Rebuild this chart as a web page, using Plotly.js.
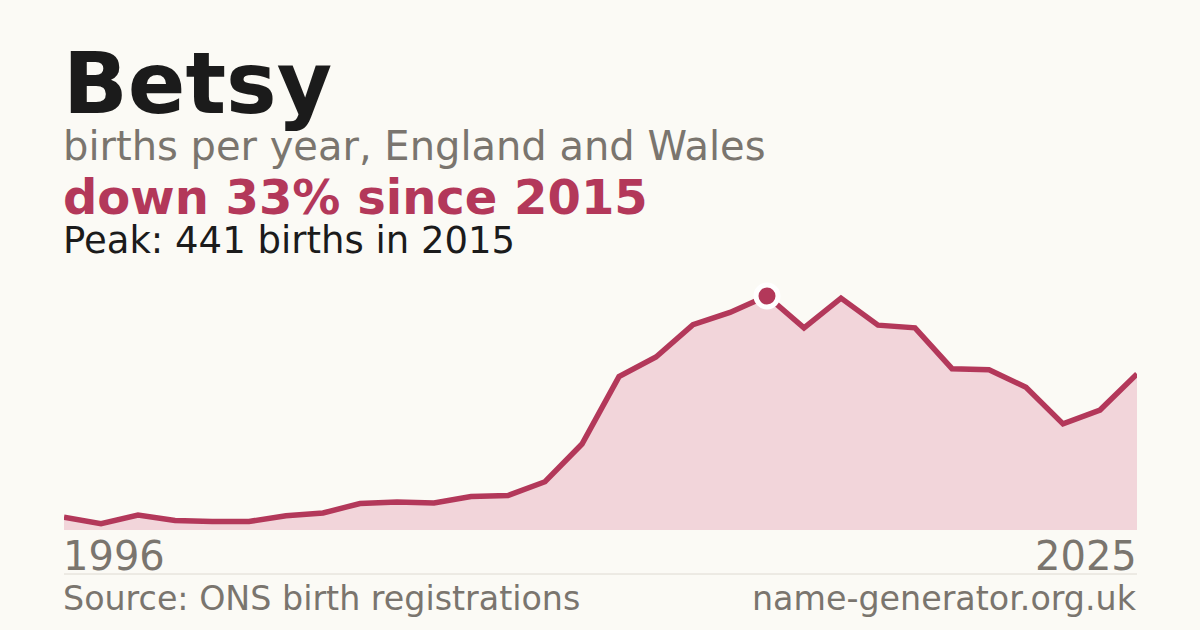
<!DOCTYPE html>
<html>
<head>
<meta charset="utf-8">
<script src="https://cdn.plot.ly/plotly-3.0.1.min.js"></script>
<style>
  html, body { margin: 0; padding: 0; background: #fbfaf5; }
  #chart { width: 1200px; height: 630px; }
</style>
</head>
<body>
<div id="chart"></div>
<script>
/* ============================================================
   DATA
   ============================================================ */
const years = [
  1996, 1997, 1998, 1999, 2000, 2001, 2002, 2003, 2004, 2005,
  2006, 2007, 2008, 2009, 2010, 2011, 2012, 2013, 2014, 2015,
  2016, 2017, 2018, 2019, 2020, 2021, 2022, 2023, 2024, 2025,
];
const births = [
  24, 12, 28, 18, 16, 16, 27, 32, 50, 53,
  51, 63, 65, 91, 162, 289, 326, 387, 410, 441,
  381, 437, 386, 381, 304, 302, 269, 200, 226, 294,
];
const peakYear = 2015;
const peakValue = 441;
const tickLabels = ["1996", "2025"];

/* ============================================================
   COLOURS
   ============================================================ */
const BG = "#fbfaf5";
const RED = "#b3385a";
const FILL = "#f2d5da";
const INK = "#1b1b1b";
const GREY = "#7a756e";
const FONT = "DejaVu Sans, sans-serif";

// plot area: y=280..530 px, zero sits on the bottom edge
const plotTop = 280;
const plotBottom = 530;
const plotH = plotBottom - plotTop;
const plotW = 1200 - 64 - 63;
const yMax = (peakValue * plotH) / 234;

// pixel row -> paper y
function py(px) {
  return (plotBottom - px) / plotH;
}
const LEFT = -2 / plotW;
const RIGHT = 1 + 1 / plotW;

function label(text, x, yPx, size, color, bold, anchor) {
  return {
    xref: "paper",
    yref: "paper",
    x: x,
    y: py(yPx),
    xanchor: anchor || "left",
    yanchor: "middle",
    showarrow: false,
    borderpad: 0,
    text: bold ? "<b>" + text + "</b>" : text,
    font: { family: FONT, size: size, color: color },
  };
}

/* ============================================================
   TRACES
   ============================================================ */
const area = {
  x: years,
  y: births,
  type: "scatter",
  mode: "lines",
  fill: "tozeroy",
  fillcolor: FILL,
  line: { color: RED, width: 5.5, shape: "linear" },
  hoverinfo: "skip",
};

// peak dot with a white ring
const peak = {
  x: [peakYear],
  y: [peakValue],
  type: "scatter",
  mode: "markers",
  marker: { size: 22, color: RED, line: { color: "#ffffff", width: 5 } },
  cliponaxis: false,
  hoverinfo: "skip",
};

/* ============================================================
   LAYOUT
   ============================================================ */
const layout = {
  width: 1200,
  height: 630,
  paper_bgcolor: BG,
  plot_bgcolor: BG,
  showlegend: false,
  margin: { l: 64, r: 63, t: plotTop, b: 630 - plotBottom, pad: 0 },
  xaxis: {
    range: [years[0], years[years.length - 1]],
    showgrid: false,
    zeroline: false,
    showline: false,
    showticklabels: false,
    fixedrange: true,
  },
  yaxis: {
    range: [0, yMax],
    showgrid: false,
    zeroline: false,
    showline: false,
    showticklabels: false,
    fixedrange: true,
  },
  shapes: [
    {
      type: "line",
      xref: "paper",
      yref: "paper",
      x0: 0,
      x1: 1,
      y0: py(574),
      y1: py(574),
      line: { color: "#dedad2", width: 1 },
    },
  ],
  annotations: [
    label("Betsy", LEFT, 83, 85, INK, true),
    label("births per year, England and Wales", LEFT, 145.5, 40, GREY, false),
    label("down 33% since 2015", LEFT, 197.4, 48, RED, true),
    label("Peak: " + peakValue + " births in " + peakYear, LEFT, 240.5, 37, INK, false),
    label(tickLabels[0], LEFT, 555.5, 40, GREY, false),
    label(tickLabels[1], RIGHT, 555.5, 40, GREY, false, "right"),
    label("Source: ONS birth registrations", LEFT, 598, 33.3, GREY, false),
    label("name-generator.org.uk", RIGHT, 598, 33.3, GREY, false, "right"),
  ],
};

Plotly.newPlot("chart", [area, peak], layout, { displayModeBar: false, staticPlot: true });
</script>
</body>
</html>
